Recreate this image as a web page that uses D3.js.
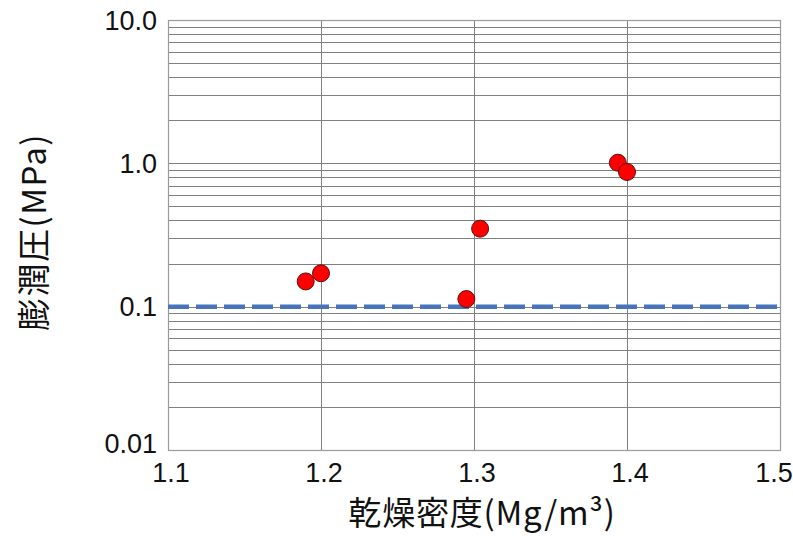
<!DOCTYPE html>
<html>
<head>
<meta charset="utf-8">
<script src="https://cdn.jsdelivr.net/npm/d3@7"></script>
<style>
  body { margin: 0; background: #fff; }
  svg { display: block; }
</style>
</head>
<body>
<div id="chart"></div>
<script>
// data
let density = [1.19, 1.20, 1.295, 1.304, 1.394, 1.40]
let pressure = [0.15, 0.171, 0.113, 0.35, 1.01, 0.87]
let xTicks = [1.1, 1.2, 1.3, 1.4, 1.5]
let yTicks = [0.01, 0.1, 1, 10]
let yTickLabels = ["0.01", "0.1", "1.0", "10.0"]
let limitValue = 0.1

let width = 793,
    height = 536

let margin = { top: 20, right: 13, bottom: 86, left: 168 }

let w = width - margin.left - margin.right
let h = height - margin.top - margin.bottom

let svg = d3.select("#chart")
    .append("svg")
    .attr("width", width)
    .attr("height", height)

let xScale = d3.scaleLinear()
    .domain([1.1, 1.5])
    .range([margin.left, margin.left + w])

let yScale = d3.scaleLog()
    .domain([0.01, 10])
    .range([margin.top + h, margin.top])

// gridlines (minor log lines included)
let grid = svg.append("g")
    .attr("stroke", "#808080")
    .attr("stroke-width", 1)
    .attr("shape-rendering", "crispEdges")

grid.selectAll("line.h")
    .data(yScale.ticks())
    .enter().append("line")
    .attr("class", "h")
    .attr("x1", margin.left)
    .attr("x2", margin.left + w)
    .attr("y1", d => Math.round(yScale(d)) + 0.5)
    .attr("y2", d => Math.round(yScale(d)) + 0.5)

grid.selectAll("line.v")
    .data(xTicks)
    .enter().append("line")
    .attr("class", "v")
    .attr("y1", margin.top)
    .attr("y2", margin.top + h)
    .attr("x1", d => Math.round(xScale(d)) + 0.5)
    .attr("x2", d => Math.round(xScale(d)) + 0.5)

svg.append("rect")
    .attr("x", margin.left + 0.5)
    .attr("y", margin.top + 0.5)
    .attr("width", w)
    .attr("height", h)
    .attr("fill", "none")
    .attr("stroke", "#9a9a9a")
    .attr("stroke-width", 1.2)

// tick labels
svg.append("g")
    .attr("font-family", "'Liberation Sans', Arial, sans-serif")
    .attr("font-size", 27)
    .attr("fill", "#111")
    .attr("text-anchor", "end")
    .selectAll("text")
    .data(yTicks)
    .enter().append("text")
    .attr("x", margin.left - 11)
    .attr("y", d => yScale(d))
    .attr("dy", (d, i) => i === 0 ? "0.1em" : "0.36em")
    .text((d, i) => yTickLabels[i])

svg.append("g")
    .attr("font-family", "'Liberation Sans', Arial, sans-serif")
    .attr("font-size", 27)
    .attr("fill", "#111")
    .attr("text-anchor", "middle")
    .selectAll("text")
    .data(xTicks)
    .enter().append("text")
    .attr("x", d => xScale(d))
    .attr("dx", (d, i) => i === xTicks.length - 1 ? -6 : 3)
    .attr("y", margin.top + h + 32)
    .text(d => d.toFixed(1))

// 0.1 MPa reference line
svg.append("line")
    .attr("x1", xScale(1.1))
    .attr("x2", xScale(1.5))
    .attr("y1", yScale(limitValue))
    .attr("y2", yScale(limitValue))
    .attr("stroke", "#4675be")
    .attr("stroke-width", 4.5)
    .attr("stroke-dasharray", "21,7")

// points
svg.append("g")
    .selectAll("circle")
    .data(density)
    .enter().append("circle")
    .attr("cx", d => xScale(d))
    .attr("cy", (d, i) => yScale(pressure[i]))
    .attr("r", 8.5)
    .attr("fill", "#ff0000")
    .attr("stroke", "#5a1010")
    .attr("stroke-width", 1)

// axis titles
svg.append("text")
    .attr("x", margin.left + w / 2 + 8)
    .attr("y", 525)
    .attr("text-anchor", "middle")
    .attr("font-family", "'Noto Sans CJK JP', sans-serif")
    .attr("font-size", 33)
    .attr("letter-spacing", 0.8)
    .attr("fill", "#111")
    .text("乾燥密度(Mg/m³)")

svg.append("text")
    .attr("transform", "translate(46," + 232 + ") rotate(-90)")
    .attr("text-anchor", "middle")
    .attr("font-family", "'Noto Sans CJK JP', sans-serif")
    .attr("font-size", 33)
    .attr("letter-spacing", 1.5)
    .attr("fill", "#111")
    .text("膨潤圧(MPa)")
</script>
</body>
</html>
